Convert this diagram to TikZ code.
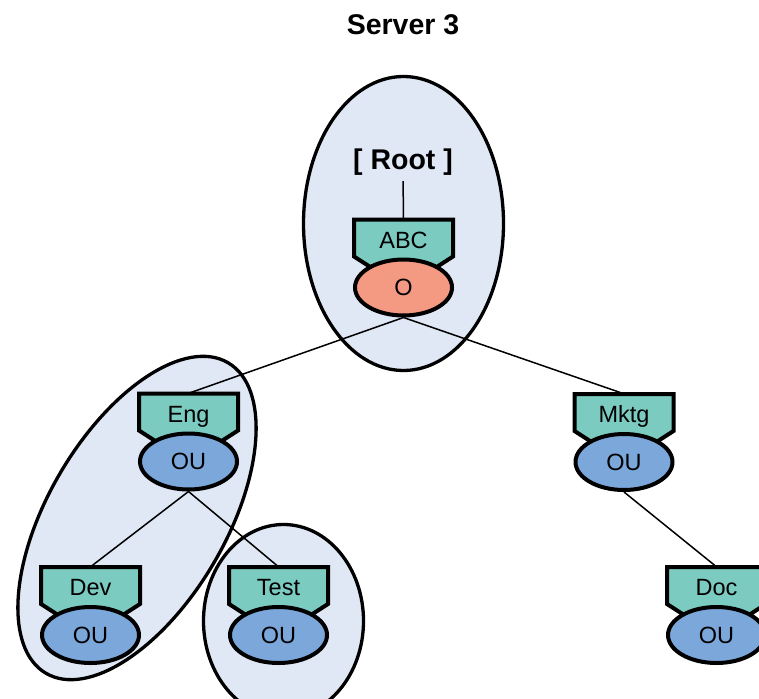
\documentclass[tikz,border=0pt]{standalone}
\usepackage{fontspec}
\setmainfont{Liberation Sans}
\usetikzlibrary{shapes.geometric}

\definecolor{groupblue}{HTML}{E0E7F5}
\definecolor{tagteal}{HTML}{7BCBC1}
\definecolor{orgsalmon}{HTML}{F59A82}
\definecolor{oublue}{HTML}{7BA7DA}

\tikzset{
  grouparea/.style={fill=groupblue},
  groupline/.style={draw=black, line width=3.3pt},
  tagshape/.style={fill=tagteal, draw=black, line width=4pt, line join=miter},
  tagtext/.style={minimum width=99pt, minimum height=56pt, inner sep=0pt,
    text height=16pt, text depth=15pt, font=\fontsize{23.5}{26}\selectfont},
  dirnode/.style={ellipse, draw=black, line width=4pt, minimum width=97pt,
    minimum height=56pt, inner sep=0pt, font=\fontsize{23.5}{26}\selectfont},
  orgnode/.style={dirnode, fill=orgsalmon},
  ounode/.style={dirnode, fill=oublue},
  treelink/.style={draw=black, line width=1.5pt},
  boldlabel/.style={font=\bfseries\fontsize{28.5}{32}\selectfont, inner sep=0pt, anchor=base},
}

% One directory object: labelled tag with its class ellipse below it.
% #1 name, #2 centre of the ellipse, #3 tag text, #4 ellipse text, #5 ellipse style
\newcommand\dirunit[5]{%
  \begin{scope}[shift={#2}]
    \draw[tagshape] (-49.5,-68) -- (49.5,-68) -- (49.5,-31) -- (20,-12)
      -- (-20,-12) -- (-49.5,-31) -- cycle;
    \node[tagtext] (#1-tag) at (0,-40) {#3};
    \node[#5] (#1) at (0,0) {#4};
  \end{scope}}

\begin{document}
\begin{tikzpicture}[x=1pt, y=-1pt]
  \useasboundingbox (0,0) rectangle (759,698);
  \clip (0,0) rectangle (759,698);

  % partition areas
  \fill[grouparea] (403.5,223.5) ellipse [x radius=100pt, y radius=147pt];
  \fill[grouparea, rotate around={59.6:(137,518)}] (137,518) ellipse [x radius=180pt, y radius=89pt];
  \fill[grouparea] (283.5,621) ellipse [x radius=80pt, y radius=96.5pt];
  \draw[groupline] (403.5,223.5) ellipse [x radius=100pt, y radius=147pt];
  \draw[groupline, rotate around={59.6:(137,518)}] (137,518) ellipse [x radius=180pt, y radius=89pt];
  \draw[groupline] (283.5,621) ellipse [x radius=80pt, y radius=96.5pt];

  % labels
  \node[boldlabel] (title) at (403,35) {Server 3};
  \node[boldlabel] (rootlabel) at (403,169) {[ Root ]};

  % directory objects
  \dirunit{abc}{(403.5,287.5)}{ABC}{O}{orgnode}
  \dirunit{eng}{(188.5,461.5)}{Eng}{OU}{ounode}
  \dirunit{mktg}{(624,462)}{Mktg}{OU}{ounode}
  \dirunit{dev}{(90.5,635)}{Dev}{OU}{ounode}
  \dirunit{test}{(278.5,635)}{Test}{OU}{ounode}
  \dirunit{doc}{(716.5,635)}{Doc}{OU}{ounode}

  % tree links
  \draw[treelink, shorten <=6pt] (rootlabel.south) -- (abc-tag.north);
  \draw[treelink] (abc.south) -- (eng-tag.north);
  \draw[treelink] (abc.south) -- (mktg-tag.north);
  \draw[treelink] (eng.south) -- (dev-tag.north);
  \draw[treelink] (eng.south) -- (test-tag.north);
  \draw[treelink] (mktg.south) -- (doc-tag.north);
\end{tikzpicture}
\end{document}
